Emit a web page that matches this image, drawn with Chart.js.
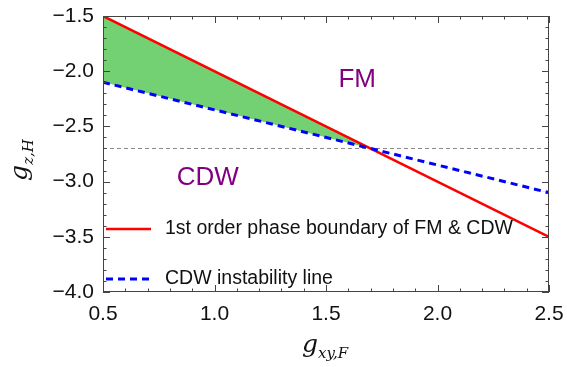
<!DOCTYPE html>
<html>
<head>
<meta charset="utf-8">
<script src="https://cdn.jsdelivr.net/npm/chart.js@4.4.1/dist/chart.umd.min.js"></script>
<style>
  html, body { margin: 0; padding: 0; background: #fff; }
  #wrap { width: 567px; height: 367px; }
</style>
</head>
<body>
<div id="wrap"><canvas id="myChart"></canvas></div>
<script>
// datos de las dos lineas (extremos en g_xy,F)
const xEnds = [0.5, 2.5];
const boundaryY = [-1.5, -3.5];      // frontera de primer orden FM / CDW
const instabilityY = [-2.1, -3.1];   // linea de inestabilidad CDW
const crossY = [-2.7, -2.7];         // horizontal por el cruce
const xTicks = [0.5, 1.0, 1.5, 2.0, 2.5];
const yTicks = [-4.0, -3.5, -3.0, -2.5, -2.0, -1.5];
const seriesLabels = ['1st order phase boundary of FM & CDW', 'CDW instability line'];
const regionLabels = [
  { text: 'FM', x: 1.64, y: -2.08 },
  { text: 'CDW', x: 0.97, y: -2.97 }
];

const toPts = ys => xEnds.map((x, i) => ({ x: x, y: ys[i] }));
const fmt = v => v.toFixed(1).replace('-', '\u2212');
const SANS = '"Liberation Sans", Arial, sans-serif';
const SERIF = '"DejaVu Serif", "Liberation Serif", serif';

// marco, ticks hacia adentro, leyenda y textos
const framePlugin = {
  id: 'frame',
  afterDatasetsDraw(chart) {
    const { ctx, chartArea: a, scales } = chart;
    const xs = scales.x, ys = scales.y;
    ctx.save();
    ctx.strokeStyle = '#444';
    ctx.lineWidth = 1;
    ctx.strokeRect(a.left + 0.5, a.top + 0.5, a.right - a.left - 1, a.bottom - a.top - 1);
    // ticks x (cada 0.1, mayores cada 0.5)
    for (let i = 0; i <= 20; i++) {
      const v = 0.5 + i * 0.1;
      const px = Math.round(xs.getPixelForValue(v)) + 0.5;
      const len = i % 5 === 0 ? 7 : 3.5;
      ctx.beginPath();
      ctx.moveTo(px, a.bottom); ctx.lineTo(px, a.bottom - len);
      ctx.moveTo(px, a.top); ctx.lineTo(px, a.top + len);
      ctx.stroke();
    }
    // ticks y
    for (let i = 0; i <= 25; i++) {
      const v = -4.0 + i * 0.1;
      const py = Math.round(ys.getPixelForValue(v)) + 0.5;
      const len = i % 5 === 0 ? 7 : 3.5;
      ctx.beginPath();
      ctx.moveTo(a.left, py); ctx.lineTo(a.left + len, py);
      ctx.moveTo(a.right, py); ctx.lineTo(a.right - len, py);
      ctx.stroke();
    }
    // textos de las fases
    ctx.fillStyle = '#800080';
    ctx.font = '26px ' + SANS;
    ctx.textAlign = 'center';
    ctx.textBaseline = 'middle';
    regionLabels.forEach(r => {
      ctx.fillText(r.text, xs.getPixelForValue(r.x), ys.getPixelForValue(r.y));
    });
    // leyenda
    const items = [
      { ds: chart.data.datasets[0], y: 229 },
      { ds: chart.data.datasets[1], y: 279 }
    ];
    ctx.textAlign = 'left';
    ctx.fillStyle = '#111';
    ctx.font = '19.5px ' + SANS;
    items.forEach(it => {
      ctx.beginPath();
      ctx.strokeStyle = it.ds.borderColor;
      ctx.lineWidth = it.ds.borderWidth;
      ctx.setLineDash(it.ds.borderDash || []);
      ctx.moveTo(a.left + 3, it.y);
      ctx.lineTo(a.left + 48, it.y);
      ctx.stroke();
      ctx.setLineDash([]);
      ctx.fillText(it.ds.label, a.left + 62, it.y);
    });
    // titulos de ejes
    ctx.fillStyle = '#111';
    const mathLabel = (main, sub, cx, cy, rot) => {
      ctx.save();
      ctx.translate(cx, cy);
      ctx.rotate(rot);
      ctx.font = 'italic 25px ' + SERIF;
      const w1 = ctx.measureText(main).width;
      ctx.font = 'italic 15px ' + SERIF;
      const w2 = ctx.measureText(sub).width;
      const x0 = -(w1 + w2) / 2;
      ctx.textBaseline = 'alphabetic';
      ctx.font = 'italic 25px ' + SERIF;
      ctx.fillText(main, x0, 0);
      ctx.font = 'italic 15px ' + SERIF;
      ctx.fillText(sub, x0 + w1, 6);
      ctx.restore();
    };
    mathLabel('g', 'xy,F', 325, 352, 0);
    mathLabel('g', 'z,H', 27, 160, -Math.PI / 2);
    ctx.restore();
  }
};

const ctx = document.getElementById('myChart');
new Chart(ctx, {
  type: 'line',
  data: {
    datasets: [{
      label: seriesLabels[0],
      data: toPts(boundaryY),
      borderColor: '#ff0000',
      borderWidth: 2.5,
      pointRadius: 0,
      fill: { target: '+1', above: 'rgba(115, 209, 115, 1)', below: 'rgba(0,0,0,0)' },
      order: 1
    }, {
      label: seriesLabels[1],
      data: toPts(instabilityY),
      borderColor: '#0000ff',
      borderWidth: 3,
      borderDash: [7, 5],
      pointRadius: 0,
      fill: false,
      order: 0
    }, {
      label: 'cruce',
      data: toPts(crossY),
      borderColor: '#888',
      borderWidth: 1,
      borderDash: [4, 3],
      pointRadius: 0,
      fill: false,
      order: 2
    }]
  },
  options: {
    responsive: true,
    maintainAspectRatio: false,
    animation: false,
    layout: { padding: { left: 0, right: 18, top: 16, bottom: 0 } },
    plugins: { legend: { display: false }, tooltip: { enabled: false } },
    scales: {
      x: {
        type: 'linear',
        min: 0.5, max: 2.5,
        afterBuildTicks: s => { s.ticks = xTicks.map(v => ({ value: v })); },
        afterFit: s => { s.height = 75; s.paddingLeft = 0; s.paddingRight = 0; },
        grid: { display: false, drawTicks: false },
        border: { display: false },
        ticks: {
          padding: 10,
          color: '#111',
          font: { family: SANS, size: 21 },
          callback: v => fmt(v)
        }
      },
      y: {
        type: 'linear',
        min: -4, max: -1.5,
        afterBuildTicks: s => { s.ticks = yTicks.map(v => ({ value: v })); },
        afterFit: s => { s.width = 103; s.paddingTop = 0; s.paddingBottom = 0; },
        grid: { display: false, drawTicks: false },
        border: { display: false },
        ticks: {
          padding: 9,
          color: '#111',
          font: { family: SANS, size: 21 },
          callback: v => fmt(v)
        }
      }
    }
  },
  plugins: [framePlugin]
});
</script>
</body>
</html>
